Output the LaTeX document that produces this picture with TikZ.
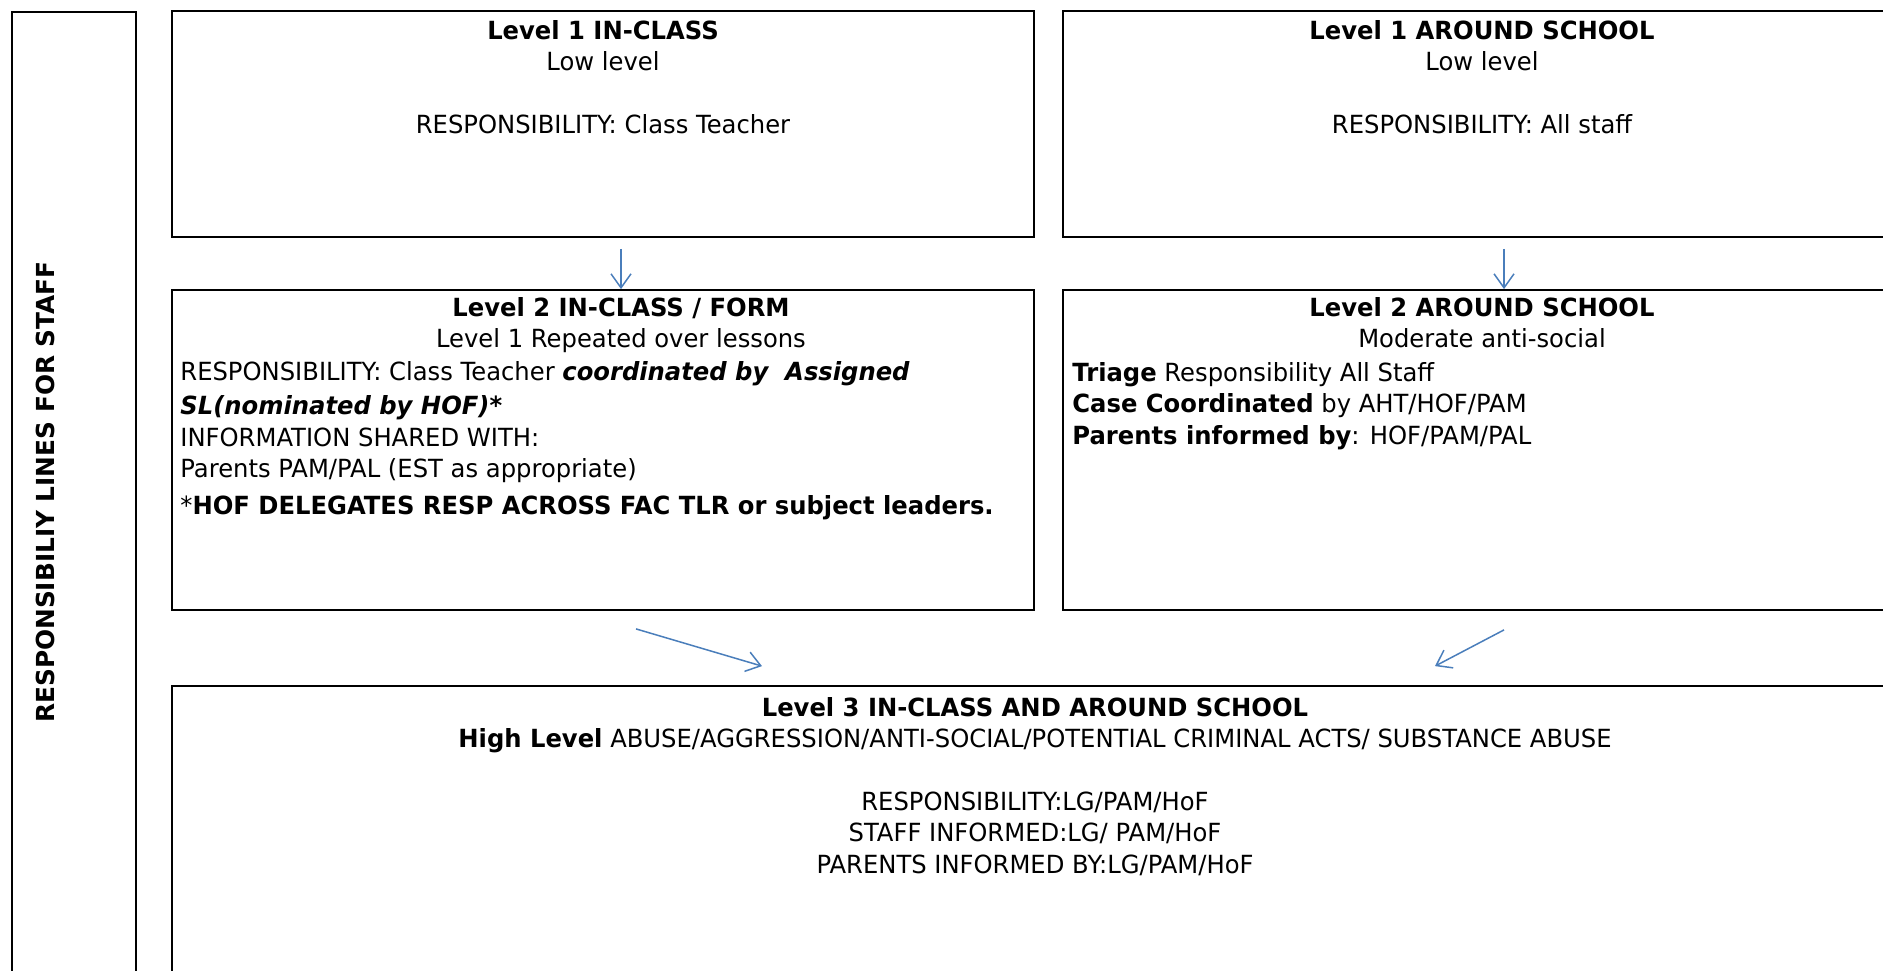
\documentclass[tikz,border=0pt]{standalone}
\usepackage{fontspec}
\setmainfont{DejaVu Sans}[FakeStretch=0.97]
\newfontfamily\sidefont{DejaVu Sans}
\usetikzlibrary{arrows.meta}
\definecolor{arrowblue}{HTML}{4A7EBB}
\tikzset{
  panel/.style={draw, line width=0.9pt, inner sep=0pt},
  flow/.style={draw=arrowblue, line width=0.75pt, -{Straight Barb[length=7pt,width=10pt]}},
  txt/.style={inner sep=0pt, font=\fontsize{12.5}{15.75}\selectfont},
}

\begin{document}
\begin{tikzpicture}[x=0.5pt,y=-0.5pt]
  \useasboundingbox (0,0) rectangle (1883,970);
  \clip (0,0) rectangle (1883,970);
  % frames
  \node[panel, minimum width=62pt, minimum height=494pt] (staff) at (74,506) {};
  \node[panel, minimum width=431pt, minimum height=113pt] (inclass1) at (603,124) {};
  \node[panel, minimum width=419pt, minimum height=113pt] (around1) at (1482,124) {};
  \node[panel, minimum width=431pt, minimum height=160pt] (inclass2) at (603,450) {};
  \node[panel, minimum width=419pt, minimum height=160pt] (around2) at (1482,450) {};
  \node[panel, minimum width=863pt, minimum height=157pt] (level3) at (1035,843) {};

  \node[rotate=90, inner sep=0pt, font=\sidefont\bfseries\fontsize{12.4}{14}\selectfont] (stafflbl) at (45,492) {RESPONSIBILIY LINES FOR STAFF};

  % level 1
  \node[txt, align=center, anchor=north] (inclass1txt) at (603,20)
    {\textbf{Level 1 IN-CLASS}\\Low level\\[15.75pt]RESPONSIBILITY: Class Teacher};
  \node[txt, align=center, anchor=north] (around1txt) at (1482,20)
    {\textbf{Level 1 AROUND SCHOOL}\\Low level\\[15.75pt]RESPONSIBILITY: All staff};

  % level 2
  \node[txt, align=center, anchor=north] (inclass2head) at (621,297)
    {\textbf{Level 2 IN-CLASS / FORM}\\Level 1 Repeated over lessons};
  \node[txt, align=left, anchor=north west] (inclass2txt) at (180,361)
    {RESPONSIBILITY: Class Teacher \textbf{\textit{coordinated by\ \ Assigned}}\\[1.5pt]
     \textbf{\textit{SL(nominated by HOF)*}}\\
     INFORMATION SHARED WITH:\\
     Parents PAM/PAL (EST as appropriate)\\[2.5pt]
     *\textbf{HOF DELEGATES RESP ACROSS FAC TLR or subject leaders.}};
  \node[txt, align=center, anchor=north] (around2head) at (1482,297)
    {\textbf{Level 2 AROUND SCHOOL}\\Moderate anti-social};
  \node[txt, align=left, anchor=north west] (around2txt) at (1072,362)
    {\textbf{Triage} Responsibility All Staff\\
     \textbf{Case Coordinated} by AHT/HOF/PAM\\
     \textbf{Parents informed by}: HOF/PAM/PAL};

  % level 3
  \node[txt, align=center, anchor=north] (level3txt) at (1035,697)
    {\textbf{Level 3 IN-CLASS AND AROUND SCHOOL}\\
     \textbf{High Level} ABUSE/AGGRESSION/ANTI-SOCIAL/POTENTIAL CRIMINAL ACTS/ SUBSTANCE ABUSE\\[15.5pt]
     RESPONSIBILITY:LG/PAM/HoF\\
     STAFF INFORMED:LG/ PAM/HoF\\
     PARENTS INFORMED BY:LG/PAM/HoF};

  % arrows
  \draw[flow] ([xshift=9pt,yshift=-5.5pt]inclass1.south) -- ([xshift=9pt]inclass2.north);
  \draw[flow] ([xshift=11pt,yshift=-5.5pt]around1.south) -- ([xshift=11pt]around2.north);
  \draw[flow] ([xshift=16.5pt,yshift=-9pt]inclass2.south) -- ([xshift=-136.5pt,yshift=9.5pt]level3.north);
  \draw[flow] ([xshift=11pt,yshift=-9.5pt]around2.south) -- ([xshift=200pt,yshift=9.5pt]level3.north);
\end{tikzpicture}
\end{document}
